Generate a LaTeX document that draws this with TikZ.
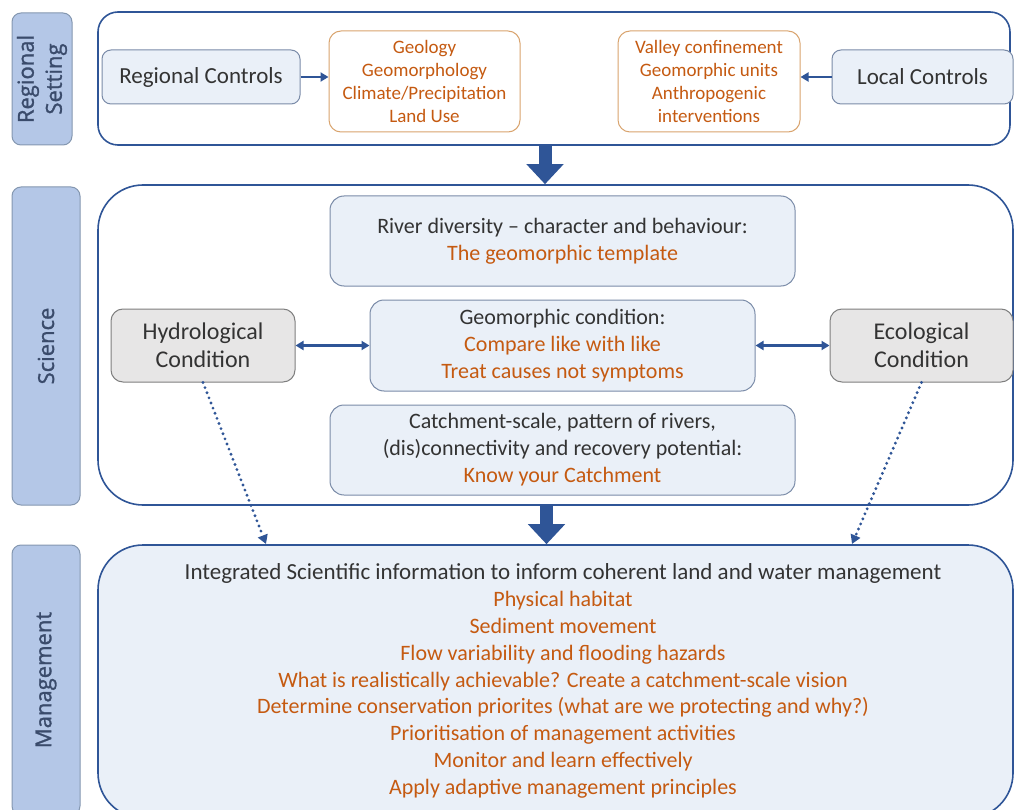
\documentclass[tikz,border=0pt]{standalone}
\usepackage{fontspec}
\setmainfont{Carlito}
\newfontfamily\tabfont[FakeBold=1.3]{Open Sans}
\usetikzlibrary{arrows.meta,positioning,calc}

\definecolor{frameblue}{HTML}{2F5597}
\definecolor{boxblue}{HTML}{EAF0F8}
\definecolor{boxline}{HTML}{7A8BA8}
\definecolor{tabblue}{HTML}{B4C7E7}
\definecolor{tabline}{HTML}{8497B0}
\definecolor{tabtext}{HTML}{3A4B6B}
\definecolor{txtdark}{HTML}{333333}
\definecolor{txtorange}{HTML}{C55A11}
\definecolor{lineorange}{HTML}{D9A46E}
\definecolor{condgrey}{HTML}{E7E6E6}
\definecolor{greyline}{HTML}{7F7F7F}

\begin{document}
\begin{tikzpicture}[x=1pt,y=-1pt,
    tab/.style={draw=tabline, fill=tabblue, line width=1pt, rounded corners=9pt, rotate=90,
        font=\tabfont\fontsize{22}{28}\selectfont, text=tabtext, align=center},
    panel/.style={draw=frameblue, line width=1.6pt},
    ctrl/.style={draw=boxline, fill=boxblue, line width=1pt, rounded corners=9pt,
        font=\fontsize{23}{26}\selectfont, text=txtdark},
    factor/.style={draw=lineorange, fill=white, line width=1pt, rounded corners=12pt,
        font=\fontsize{19}{23}\selectfont, text=txtorange, align=center},
    sci/.style={draw=boxline, fill=boxblue, line width=1pt, rounded corners=14pt,
        font=\fontsize{22}{27}\selectfont, text=txtdark, align=center},
    cond/.style={draw=greyline, fill=condgrey, line width=1pt, rounded corners=12pt,
        font=\fontsize{24}{28}\selectfont, text=txtdark, align=center},
    link/.style={-{Triangle[length=8pt,width=9pt]}, draw=frameblue, line width=2.6pt},
    twoway/.style={{Triangle[length=8pt,width=9pt]}-{Triangle[length=8pt,width=9pt]}, draw=frameblue, line width=2.6pt},
    bigarrow/.style={-{Triangle[length=20pt,width=36pt]}, draw=frameblue, line width=13pt},
    dotlink/.style={-{Triangle[length=9pt,width=10pt]}, draw=frameblue, line width=3.2pt,
        line cap=round, dash pattern=on 0pt off 5.5pt}
]
    \useasboundingbox (0,0) rectangle (1016,810);
    \clip (0,0) rectangle (1016,810);

    % Side tabs
    \node[tab, minimum width=132pt, minimum height=60pt] (tabregion) at (42,79) {Regional\\Setting};
    \node[tab, minimum width=318pt, minimum height=68pt] (tabscience) at (46,346) {Science};
    \node[tab, minimum width=270pt, minimum height=68pt] (tabmgmt) at (46,680) {Management};

    % Panels
    \node[panel, fill=white, rounded corners=20pt, minimum width=912pt, minimum height=133pt] (regpanel) at (554,78.5) {};
    \node[panel, fill=white, rounded corners=45pt, minimum width=915pt, minimum height=320pt] (scipanel) at (555.5,345) {};
    \node[panel, fill=boxblue, rounded corners=45pt, minimum width=915pt, minimum height=273pt] (mgmtpanel) at (555.5,681.5) {};

    % Regional setting
    \node[ctrl, minimum width=198pt, minimum height=54pt] (regional) at (201,77) {Regional Controls};
    \node[factor, minimum width=191pt, minimum height=101pt] (regfactors) at (424.5,81.5)
        {Geology\\Geomorphology\\Climate/Precipitation\\Land Use};
    \node[factor, minimum width=182pt, minimum height=101pt] (locfactors) at (709,81.5)
        {Valley confinement\\Geomorphic units\\Anthropogenic\\interventions};
    \node[ctrl, minimum width=181pt, minimum height=54pt] (local) at (922.5,77) {Local Controls};

    \draw[link] (regional.east) -- (regional.east -| regfactors.west);
    \draw[link] (local.west) -- (local.west -| locfactors.east);

    % Science
    \node[sci, minimum width=465pt, minimum height=90pt] (template) at (562.5,241)
        {River diversity -- character and behaviour:\\\textcolor{txtorange}{The geomorphic template}};
    \node[sci, minimum width=385pt, minimum height=91pt] (geocond) at (562.5,345.5)
        {Geomorphic condition:\\\textcolor{txtorange}{Compare like with like}\\\textcolor{txtorange}{Treat causes not symptoms}};
    \node[sci, minimum width=465pt, minimum height=90pt] (catchment) at (562.5,450)
        {Catchment-scale, pattern of rivers,\\(dis)connectivity and recovery potential:\\\textcolor{txtorange}{Know your Catchment}};
    \node[cond, minimum width=184pt, minimum height=73pt] (hydro) at (203,345.5) {Hydrological\\Condition};
    \node[cond, minimum width=183pt, minimum height=73pt] (eco) at (921.5,345.5) {Ecological\\Condition};

    \draw[twoway] (hydro.east) -- (hydro.east -| geocond.west);
    \draw[twoway] (geocond.east) -- (geocond.east -| eco.west);

    % Management
    \node[font=\fontsize{22}{26.8}\selectfont, align=center, text=txtorange] (mgmttext) at (563,681)
        {\textcolor{txtdark}{\fontsize{23}{26.8}\selectfont Integrated Scientific information to inform coherent land and water management}\\
         Physical habitat\\
         Sediment movement\\
         Flow variability and flooding hazards\\
         What is realistically achievable? Create a catchment-scale vision\\
         Determine conservation priorites (what are we protecting and why?)\\
         Prioritisation of management activities\\
         Monitor and learn effectively\\
         Apply adaptive management principles};

    % Flow between panels
    \draw[bigarrow] ([xshift=-9pt]regpanel.south) -- ([xshift=-9pt]regpanel.south |- scipanel.north);
    \draw[bigarrow] ([xshift=-9pt]scipanel.south) -- ([xshift=-9pt]scipanel.south |- mgmtpanel.north);

    \coordinate (hydroin) at (266,544);
    \coordinate (ecoin) at (852,544);
    \draw[dotlink] (hydro.south) -- (hydroin);
    \draw[dotlink] (eco.south) -- (ecoin);
\end{tikzpicture}
\end{document}
